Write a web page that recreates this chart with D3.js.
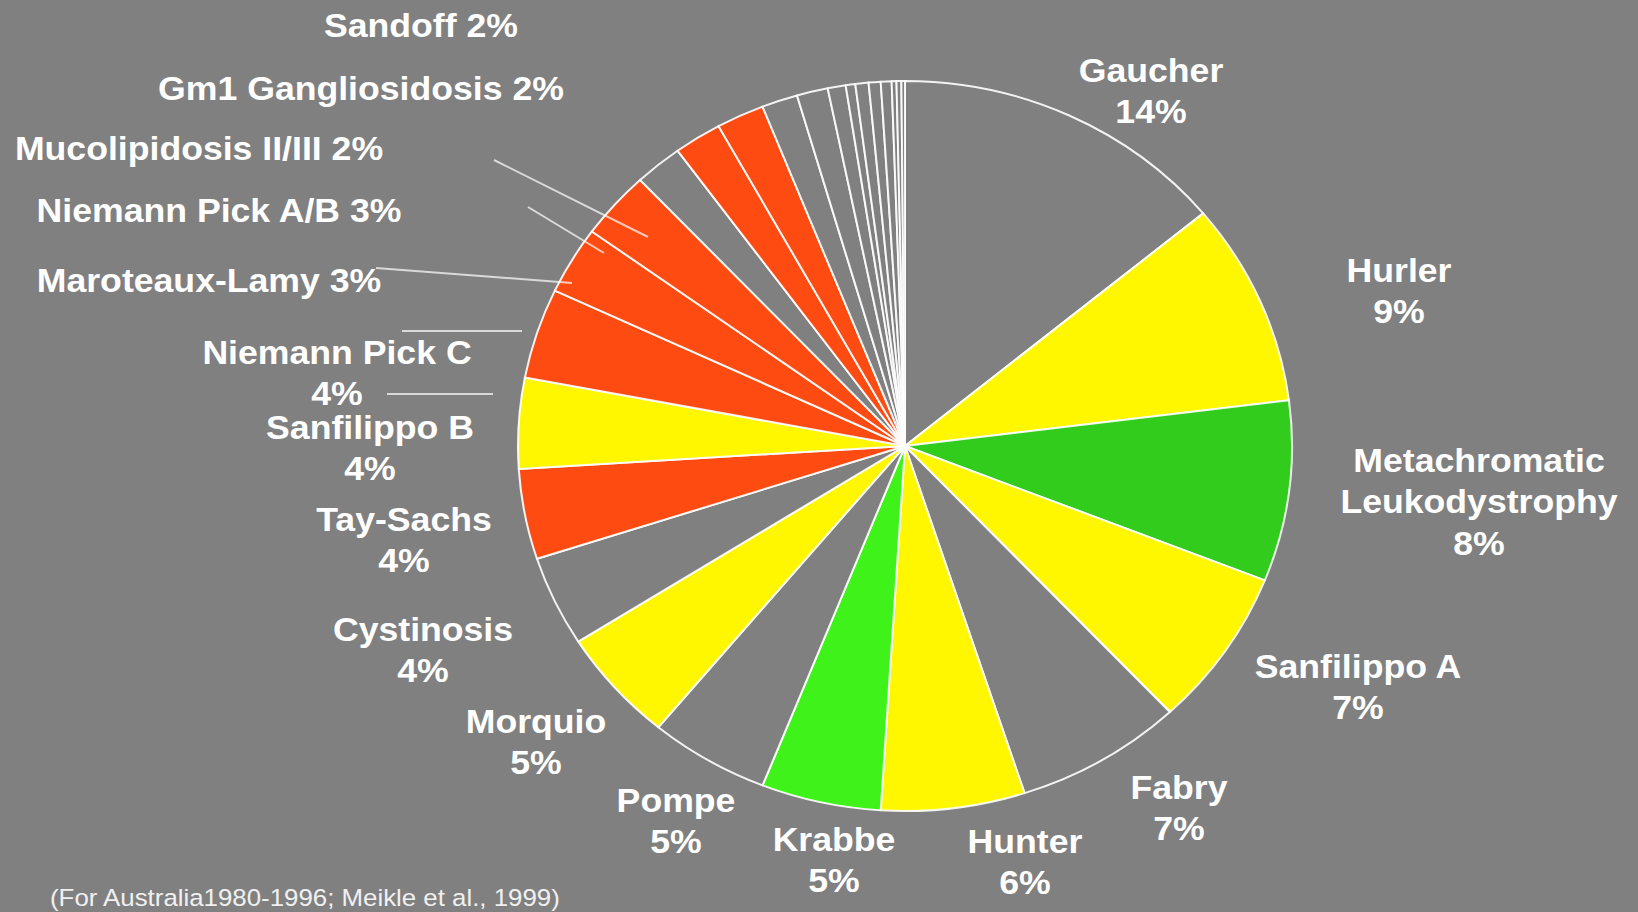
<!DOCTYPE html>
<html>
<head>
<meta charset="utf-8">
<script src="https://cdn.jsdelivr.net/npm/d3@7"></script>
<style>
  html, body { margin: 0; padding: 0; background: #808080; }
  svg { display: block; }
  text { font-family: "Liberation Sans", Arial, Helvetica, sans-serif; }
</style>
</head>
<body>
<svg id="chart" width="1638" height="912"></svg>
<script>
// Lysosomal storage disorders, relative frequency (Australia 1980-1996)
const diseases = [
  "Gaucher", "Hurler", "Metachromatic Leukodystrophy", "Sanfilippo A", "Fabry",
  "Hunter", "Krabbe", "Pompe", "Morquio", "Cystinosis", "Tay-Sachs",
  "Sanfilippo B", "Niemann Pick C", "Maroteaux-Lamy", "Niemann Pick A/B",
  "Mucolipidosis II/III", "Gm1 Gangliosidosis", "Sandoff"
];
const shares = [14, 9, 8, 7, 7, 6, 5, 5, 5, 4, 4, 4, 4, 3, 3, 2, 2, 2];
const groups = [
  "grey", "yellow", "green", "yellow", "grey",
  "yellow", "lime", "grey", "yellow", "grey", "red",
  "yellow", "red", "red", "red",
  "grey", "red", "red"
];
// remaining rare disorders, unlabelled
const otherShares = [1.5, 1.3, 0.75, 0.4, 0.55, 0.5, 0.45, 0.2, 0.2, 0.15];
const footnote = "(For Australia1980-1996; Meikle et al., 1999)";

// label placement: centre x, centre y of first line, stacked or inline
const labelLayout = {
  "Gaucher":                      { x: 1151, y: 70,  mode: "stack" },
  "Hurler":                       { x: 1399, y: 270, mode: "stack" },
  "Metachromatic Leukodystrophy": { x: 1479, y: 460, mode: "stack", split: true },
  "Sanfilippo A":                 { x: 1358, y: 666, mode: "stack" },
  "Fabry":                        { x: 1179, y: 787, mode: "stack" },
  "Hunter":                       { x: 1025, y: 841, mode: "stack" },
  "Krabbe":                       { x: 834,  y: 839, mode: "stack" },
  "Pompe":                        { x: 676,  y: 800, mode: "stack" },
  "Morquio":                      { x: 536,  y: 721, mode: "stack" },
  "Cystinosis":                   { x: 423,  y: 629, mode: "stack" },
  "Tay-Sachs":                    { x: 404,  y: 519, mode: "stack" },
  "Sanfilippo B":                 { x: 370,  y: 427, mode: "stack" },
  "Niemann Pick C":               { x: 337,  y: 352, mode: "stack" },
  "Maroteaux-Lamy":               { x: 209,  y: 280, mode: "inline" },
  "Niemann Pick A/B":             { x: 219,  y: 210, mode: "inline" },
  "Mucolipidosis II/III":         { x: 199,  y: 148, mode: "inline" },
  "Gm1 Gangliosidosis":           { x: 361,  y: 88,  mode: "inline" },
  "Sandoff":                      { x: 421,  y: 25,  mode: "inline" }
};
// leader lines beside the crowded left-hand labels
const leaders = [
  [[494, 160], [648, 237]],
  [[528, 207], [604, 253]],
  [[376, 268], [572, 283]],
  [[402, 331], [522, 331]],
  [[387, 394], [493, 394]]
];

const W = 1638, H = 912;
const cx = 905, cy = 446, rx = 387, ry = 365;
const R = 365;
const lineGap = 41.5;
const fontSize = 33;

const colour = d3.scaleOrdinal()
  .domain(["grey", "yellow", "green", "lime", "red"])
  .range(["#808080", "#fff700", "#31cc1c", "#3ef21a", "#fe4b12"]);

const slices = diseases.map((d, i) => ({ name: d, value: shares[i], group: groups[i] }))
  .concat(otherShares.map((v, i) => ({ name: "other-" + i, value: v, group: "grey" })));

const svg = d3.select("#chart");
svg.append("rect").attr("width", W).attr("height", H).attr("fill", "#808080");

const pie = d3.pie().value(d => d.value).sort(null).startAngle(0).endAngle(2 * Math.PI);
const arc = d3.arc().innerRadius(0).outerRadius(R);

const g = svg.append("g")
  .attr("transform", `translate(${cx},${cy}) scale(${rx / R},${ry / R})`);

g.selectAll("path.slice")
  .data(pie(slices))
  .join("path")
  .attr("class", "slice")
  .attr("d", arc)
  .attr("fill", d => colour(d.data.group))
  .attr("stroke", "#ffffff")
  .attr("stroke-opacity", 0.9)
  .attr("stroke-width", 2)
  .attr("stroke-linejoin", "round")
  .attr("vector-effect", "non-scaling-stroke");

// leader lines
svg.append("g").selectAll("line")
  .data(leaders)
  .join("line")
  .attr("x1", d => d[0][0]).attr("y1", d => d[0][1])
  .attr("x2", d => d[1][0]).attr("y2", d => d[1][1])
  .attr("stroke", "#ffffff")
  .attr("stroke-opacity", 0.7)
  .attr("stroke-width", 2);

// labels
const labels = svg.append("g");
diseases.forEach((name, i) => {
  const L = labelLayout[name];
  const pct = shares[i] + "%";
  let lines;
  if (L.mode === "inline") lines = [name + " " + pct];
  else if (L.split) lines = name.split(" ").concat([pct]);
  else lines = [name, pct];
  const t = labels.append("g")
    .attr("transform", `translate(${L.x},${L.y}) scale(1.08,1)`);
  lines.forEach((s, k) => {
    t.append("text")
      .attr("x", 0)
      .attr("y", k * lineGap)
      .attr("dy", "0.36em")
      .attr("text-anchor", "middle")
      .attr("font-size", fontSize)
      .attr("font-weight", "bold")
      .attr("fill", "#ffffff")
      .text(s);
  });
});

svg.append("g")
  .attr("transform", "translate(50,898) scale(1.1,1)")
  .append("text")
  .attr("x", 0).attr("y", 0)
  .attr("dy", "0.36em")
  .attr("font-size", 23.5)
  .attr("fill", "#f0f0f0")
  .text(footnote);
</script>
</body>
</html>
